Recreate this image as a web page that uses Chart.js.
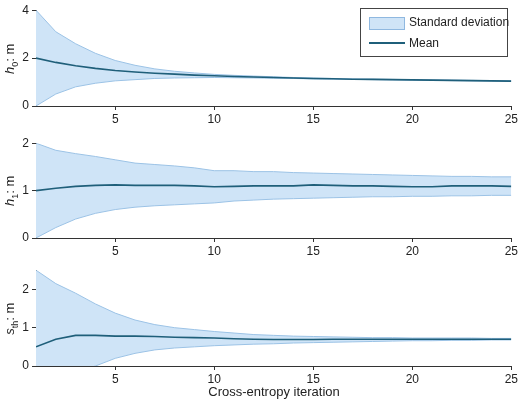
<!DOCTYPE html><html><head><script src="https://cdn.jsdelivr.net/npm/chart.js"></script>
<style>body{margin:0;width:520px;height:403px;position:relative;background:#fff;font-family:"Liberation Sans",Arial,sans-serif;color:#222}
canvas{position:absolute;left:0}
.yt{position:absolute;font-size:13px;transform:rotate(-90deg);transform-origin:center;white-space:nowrap;width:60px;text-align:center}
sub{font-size:9px}
</style></head><body>
<canvas id="c1" style="top:0" width="520" height="128"></canvas>
<canvas id="c2" style="top:133px" width="520" height="127"></canvas>
<canvas id="c3" style="top:260px" width="520" height="128"></canvas>
<div class="yt" style="left:-19px;top:50px"><i>h</i><sub>0</sub>: m</div>
<div class="yt" style="left:-19px;top:182px"><i>h</i><sub>1</sub>: m</div>
<div class="yt" style="left:-19px;top:310px"><i>s</i><sub>th</sub>: m</div>
<div style="position:absolute;left:36px;width:476px;top:384px;text-align:center;font-size:13px">Cross-entropy iteration</div>
<div style="position:absolute;left:360px;top:8px;width:146px;height:47px;border:1px solid #444;background:#fff;font-size:12px;white-space:nowrap">
<div style="position:absolute;left:8px;top:8px;width:34px;height:11px;background:#cfe4f7;border:1px solid #8fb8e0"></div>
<div style="position:absolute;left:48px;top:6px">Standard deviation</div>
<div style="position:absolute;left:8px;top:33px;width:36px;height:2px;background:#1f5f7a"></div>
<div style="position:absolute;left:48px;top:27px">Mean</div>
</div>
<script>
const iterations=[1,2,3,4,5,6,7,8,9,10,11,12,13,14,15,16,17,18,19,20,21,22,23,24,25];
const xTicks=[5,10,15,20,25];
const h0Mean=[2.0,1.82,1.68,1.57,1.48,1.42,1.37,1.33,1.29,1.26,1.23,1.21,1.19,1.17,1.15,1.14,1.12,1.11,1.10,1.09,1.08,1.07,1.06,1.05,1.04];
const h0Upper=[4.0,3.1,2.6,2.2,1.9,1.7,1.55,1.45,1.38,1.32,1.28,1.25,1.22,1.19,1.17,1.15,1.13,1.12,1.11,1.10,1.09,1.08,1.07,1.06,1.05];
const h0Lower=[0,0.5,0.8,0.95,1.05,1.1,1.15,1.17,1.18,1.19,1.18,1.17,1.16,1.15,1.13,1.12,1.11,1.10,1.09,1.08,1.07,1.06,1.05,1.04,1.03];
const h1Mean=[1.0,1.05,1.09,1.11,1.12,1.11,1.11,1.11,1.10,1.08,1.09,1.10,1.10,1.10,1.12,1.11,1.10,1.10,1.09,1.08,1.08,1.10,1.10,1.10,1.09];
const h1Upper=[2.0,1.85,1.78,1.72,1.65,1.58,1.55,1.52,1.48,1.42,1.42,1.40,1.40,1.38,1.37,1.36,1.35,1.34,1.33,1.32,1.31,1.30,1.30,1.29,1.29];
const h1Lower=[0,0.22,0.4,0.52,0.6,0.65,0.68,0.70,0.72,0.74,0.78,0.80,0.82,0.83,0.84,0.85,0.86,0.87,0.87,0.88,0.88,0.89,0.89,0.90,0.90];
const sMean=[0.5,0.7,0.8,0.8,0.78,0.78,0.77,0.75,0.74,0.73,0.71,0.70,0.69,0.69,0.69,0.70,0.70,0.70,0.70,0.70,0.70,0.70,0.70,0.70,0.70];
const sUpper=[2.5,2.15,1.9,1.62,1.38,1.2,1.08,1.0,0.95,0.90,0.86,0.82,0.80,0.78,0.77,0.76,0.75,0.74,0.74,0.73,0.73,0.73,0.73,0.72,0.72];
const sLower=[-0.5,-0.35,-0.15,0,0.2,0.33,0.42,0.47,0.5,0.53,0.55,0.57,0.58,0.6,0.61,0.62,0.63,0.64,0.65,0.66,0.66,0.67,0.67,0.68,0.68];
const y1Ticks=[0,2,4],y2Ticks=[0,1,2],y3Ticks=[0,1,2];
function make(id,mean,up,lo,ymax,yt){
 const pts=a=>iterations.map((x,i)=>({x,y:a[i]}));
 new Chart(document.getElementById(id),{type:'line',data:{datasets:[
  {data:pts(up),fill:'+1',order:2,backgroundColor:'#cfe4f7',borderColor:'#9cc3e6',borderWidth:1,pointRadius:0,tension:0},
  {data:pts(lo),fill:false,order:1,borderColor:'#9cc3e6',borderWidth:1,pointRadius:0,tension:0},
  {data:pts(mean),fill:false,order:-1,borderColor:'#1f5f7a',borderWidth:1.6,pointRadius:0,tension:0}]},
 options:{responsive:false,animation:false,layout:{padding:{top:8,right:8,left:0,bottom:0}},
  plugins:{legend:{display:false},tooltip:{enabled:false}},
  scales:{x:{type:'linear',min:1,max:25,afterBuildTicks:s=>{s.ticks=xTicks.map(v=>({value:v}))},afterFit:s=>{s.height=22},
    border:{color:'#333'},grid:{drawOnChartArea:false,tickLength:4,color:'#333'},ticks:{color:'#222',font:{size:12,family:'Liberation Sans'},padding:2,maxRotation:0}},
   y:{min:0,max:ymax,afterBuildTicks:s=>{s.ticks=yt.map(v=>({value:v}))},afterFit:s=>{s.width=36},
    border:{color:'#333'},grid:{drawOnChartArea:false,tickLength:4,color:'#333'},ticks:{color:'#222',font:{size:12,family:'Liberation Sans'},padding:3}}}}});
}
make('c1',h0Mean,h0Upper,h0Lower,4,y1Ticks);
make('c2',h1Mean,h1Upper,h1Lower,2,y2Ticks);
make('c3',sMean,sUpper,sLower,2.5,y3Ticks);
</script></body></html>
